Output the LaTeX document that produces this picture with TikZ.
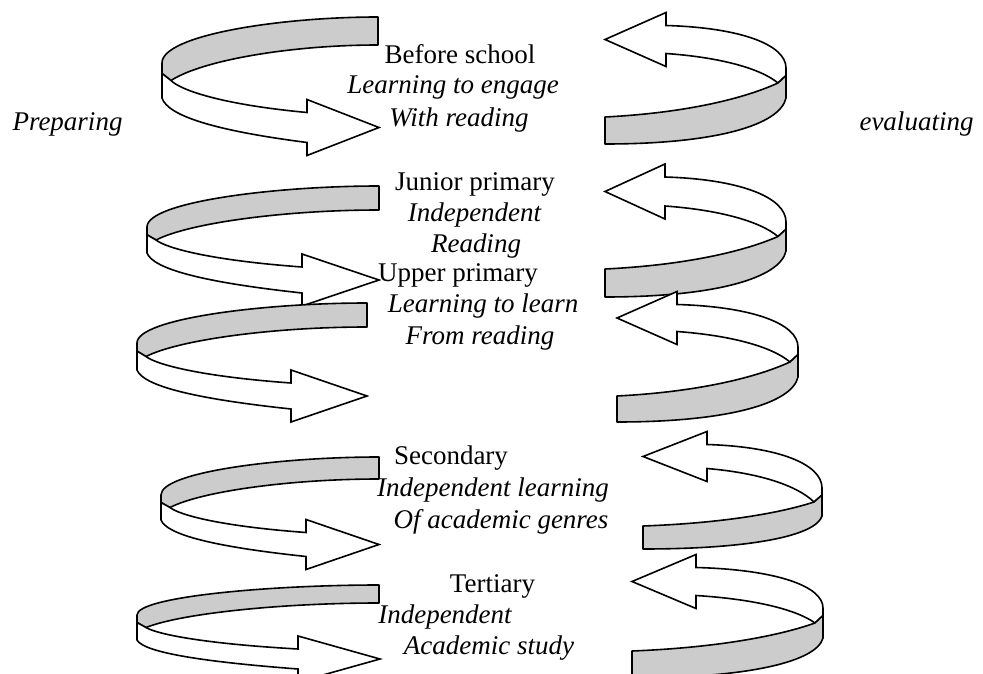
\documentclass[tikz,border=0pt]{standalone}
\usepackage{fontspec}
\setmainfont{Liberation Serif}
\usepackage{tikz}

\newcommand{\leftturn}[9]{%
  \pgfmathsetmacro{\hw}{(#6-#5)/2+1}
  \pgfmathsetmacro{\yst}{#8-\hw}
  \pgfmathsetmacro{\ysb}{#8+\hw}
  \pgfmathsetmacro{\sx}{#1+9}
  \pgfmathsetmacro{\sy}{(#2+#3)/2}
  \pgfmathsetmacro{\vm}{#2+0.3*(#3-#2)}
  \filldraw [band] (#4,#5) .. controls ({#4-0.45*(#4-#1)},#5) and (#1,{#5+0.39*(#2-#5)}) .. (#1,#2)
    -- (#1,\vm) -- (\sx,\sy)
    .. controls ({\sx+0.15*(#4-\sx)},{#6+0.43*(\sy-#6)}) and ({#4-0.42*(#4-\sx)},#6) .. (#4,#6) -- cycle;
  \filldraw [face] (\sx,\sy) .. controls ({\sx+0.07*(#7-\sx)},{\sy+0.3*(\yst-\sy)}) and ({\sx+0.37*(#7-\sx)},{\yst-0.25*(\yst-\sy)}) .. (#7,\yst)
    -- (#7,{\yst-13}) -- (#9,#8) -- (#7,{\ysb+13}) -- (#7,\ysb)
    .. controls ({#1+0.36*(#7-#1)},{\ysb-0.27*(\ysb-#3)}) and ({#1+0.04*(#7-#1)},{#3+0.4*(\ysb-#3)}) .. (#1,#3)
    -- (#1,\vm) -- cycle;
}

\newcommand{\rightturn}[9]{%
  \pgfmathsetmacro{\hw}{(#6-#5)/2+0.5}
  \pgfmathsetmacro{\yst}{#8-\hw}
  \pgfmathsetmacro{\ysb}{#8+\hw}
  \pgfmathsetmacro{\sx}{#1-8}
  \pgfmathsetmacro{\sy}{(#2+#3)/2}
  \pgfmathsetmacro{\vm}{#2+0.25*(#3-#2)}
  \filldraw [face] (#1,#2) .. controls (#1,{#2-0.55*(#2-\yst)}) and ({#1-0.38*(#1-#7)},{\yst+0.05*(#2-\yst)}) .. (#7,\yst)
    -- (#7,{\yst-13}) -- (#9,#8) -- (#7,{\ysb+13}) -- (#7,\ysb)
    .. controls ({#7+0.48*(\sx-#7)},{\ysb+0.13*(\sy-\ysb)}) and ({#7+0.84*(\sx-#7)},{\ysb+0.5*(\sy-\ysb)}) .. (\sx,\sy)
    -- (#1,\vm) -- cycle;
  \filldraw [band] (\sx,\sy) .. controls ({\sx-0.22*(\sx-#4)},{\sy+0.51*(#5-\sy)}) and ({\sx-0.57*(\sx-#4)},{#5-0.11*(#5-\sy)}) .. (#4,#5)
    -- (#4,#6) .. controls ({#1-0.39*(#1-#4)},#6) and ({#1-0.033*(#1-#4)},{#3+0.59*(#6-#3)}) .. (#1,#3)
    -- (#1,\vm) -- cycle;
}

\begin{document}
\begin{tikzpicture}[x=1pt,y=-1pt,
    band/.style={draw=black,fill=gray!40,line width=1.6pt,line join=round},
    face/.style={draw=black,fill=white,line width=1.6pt,line join=miter},
    lbl/.style={inner sep=0pt,anchor=base,font=\fontsize{27}{32}\selectfont},
    ilbl/.style={lbl,font=\fontsize{27}{32}\selectfont\itshape}]
    \useasboundingbox (0,0) rectangle (983,674);
    \clip (0,0) rectangle (983,674);

    \leftturn{162}{63}{98}{378}{17}{45}{307}{127.5}{379}
    \rightturn{786}{68}{98}{605}{117}{144}{666}{39.5}{605}
    \leftturn{147}{227}{253}{379}{186}{210}{302}{280}{379}
    \rightturn{786}{222}{251}{605}{269}{297}{665}{191.5}{605}
    \leftturn{137}{343}{370}{367}{303}{327}{291}{396}{367}
    \rightturn{798}{347}{377}{617}{396}{422}{677}{318}{617}
    \leftturn{161}{495}{520}{379}{457}{479}{306}{544.5}{379}
    \rightturn{822}{488}{516}{643}{526}{549}{707}{456.5}{643}
    \leftturn{137}{615}{640}{379}{585}{603}{298}{659}{380}
    \rightturn{823}{608}{638}{632}{651}{678}{696}{581.5}{632}

    \node [ilbl] (prep) at (67.5,131) {Preparing};
    \node [ilbl] (eval) at (916.5,131) {evaluating};

    \node [lbl] (before) at (460,64) {Before school};
    \node [ilbl] (before2) at (453,94) {Learning to engage};
    \node [ilbl] (before3) at (459,127) {With reading};

    \node [lbl] (junior) at (475,190) {Junior primary};
    \node [ilbl] (junior2) at (474.5,221) {Independent};
    \node [ilbl] (junior3) at (476,252) {Reading};

    \node [lbl] (upper) at (458,281) {Upper primary};
    \node [ilbl] (upper2) at (483,312) {Learning to learn};
    \node [ilbl] (upper3) at (480,344) {From reading};

    \node [lbl] (second) at (451,464) {Secondary};
    \node [ilbl] (second2) at (493,496) {Independent learning};
    \node [ilbl] (second3) at (501,528) {Of academic genres};

    \node [lbl] (tert) at (492.5,592) {Tertiary};
    \node [ilbl] (tert2) at (445,623) {Independent};
    \node [ilbl] (tert3) at (489,654) {Academic study};
\end{tikzpicture}
\end{document}
